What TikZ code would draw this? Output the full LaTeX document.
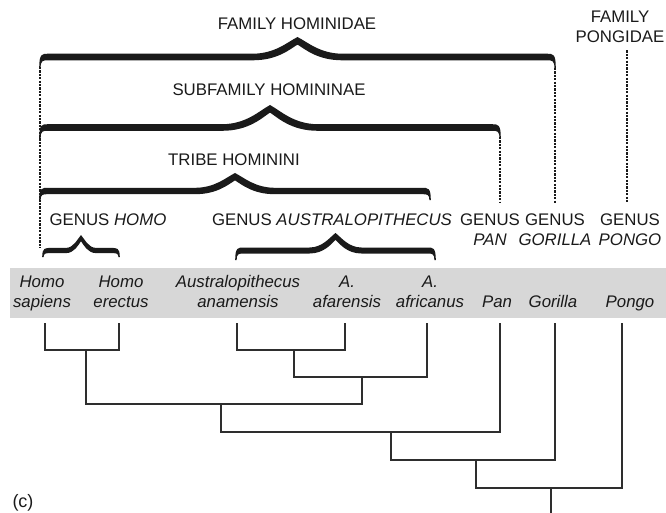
\documentclass[tikz,border=0pt]{standalone}
\usepackage{fontspec}
\setmainfont{Liberation Sans}
\definecolor{bandgray}{HTML}{D7D7D7}
\definecolor{ink}{HTML}{1A1A1A}
\definecolor{treeline}{HTML}{2E2E2E}
\newcommand{\hbrace}[7]{% x1 x2 yend ys yt w t
  \fill[ink]
    (#1-0.8,#3) .. controls (#1-0.8,#4-#7) and (#1+2,#4-#7) .. (#1+8,#4-#7)
    -- ({(#1+#2)/2-#6},#4-#7)
    .. controls ({(#1+#2)/2-0.5*#6},#4-#7) and ({(#1+#2)/2-0.22*#6},{#5+0.3*(#4-#7-#5)}) .. ({(#1+#2)/2},#5)
    .. controls ({(#1+#2)/2+0.22*#6},{#5+0.3*(#4-#7-#5)}) and ({(#1+#2)/2+0.5*#6},#4-#7) .. ({(#1+#2)/2+#6},#4-#7)
    -- (#2-8,#4-#7) .. controls (#2-2,#4-#7) and (#2+0.8,#4-#7) .. (#2+0.8,#3)
    -- (#2-0.6,#3) .. controls (#2-0.6,#4+#7) and (#2-3,#4+#7) .. (#2-8,#4+#7)
    -- ({(#1+#2)/2+#6},#4+#7)
    .. controls ({(#1+#2)/2+0.45*#6},#4+#7) and ({(#1+#2)/2+0.18*#6},{#5+2*#7+1+0.3*(#4-#7-#5)}) .. ({(#1+#2)/2},#5+2*#7+1)
    .. controls ({(#1+#2)/2-0.18*#6},{#5+2*#7+1+0.3*(#4-#7-#5)}) and ({(#1+#2)/2-0.45*#6},#4+#7) .. ({(#1+#2)/2-#6},#4+#7)
    -- (#1+8,#4+#7) .. controls (#1+3,#4+#7) and (#1+0.6,#4+#7) .. (#1+0.6,#3) -- cycle;
}
\begin{document}
\begin{tikzpicture}[x=1pt,y=-1pt,
  lbl/.style={font=\fontsize{16.8}{20}\selectfont, text=ink, inner sep=0pt},
  one/.style={lbl, anchor=base},
  two/.style={lbl, align=center, anchor=north},
  sp/.style={two, font=\fontsize{16.8}{20}\selectfont\itshape},
  spone/.style={one, font=\fontsize{16.8}{20}\selectfont\itshape},
  tree/.style={draw=treeline, line width=1.5pt},
  dsh/.style={draw=ink, line width=1.2pt, dash pattern=on 2.2pt off 1.2pt}
]
\useasboundingbox (0,0) rectangle (666,513);
\fill[bandgray] (10,268) rectangle (666,318);

% top labels
\node[one] (fam) at (297,30) {FAMILY HOMINIDAE};
\node[two] (pongid) at (620,8.5) {\strut FAMILY\\\strut PONGIDAE};
\node[one] (subfam) at (269,96) {SUBFAMILY HOMININAE};
\node[one] (tribe) at (234,166) {TRIBE HOMININI};
\node[one] (ghomo) at (108,225) {GENUS \textit{HOMO}};
\node[one] (gaus) at (332,225) {GENUS \textit{AUSTRALOPITHECUS}};
\node[two] (gpan) at (490,211) {\strut GENUS\\\strut\textit{PAN}};
\node[two] (ggor) at (555,211) {\strut GENUS\\\strut\textit{GORILLA}};
\node[two] (gpon) at (630,211) {\strut GENUS\\\strut\textit{PONGO}};

% braces
\hbrace{40}{555}{68}{57}{37}{45}{3.3}
\hbrace{40}{500}{138}{127.5}{105}{48}{3.3}
\hbrace{40}{430}{200}{191}{173}{40}{3.2}
\hbrace{43}{119}{257}{250.5}{235}{15}{2.6}
\hbrace{236}{435}{260}{250.5}{233}{26}{3}

\coordinate (famL) at (40,67);
\coordinate (famLend) at (40,248);
\coordinate (famR) at (555,68);
\coordinate (subR) at (500,137);
\coordinate (pgx) at (627,0);
\draw[dsh] (famL) -- (famLend);
\draw[dsh, shorten >=8pt] (famR) -- (famR |- ggor.north);
\draw[dsh, shorten >=8pt] (subR) -- (subR |- gpan.north);
\draw[dsh, shorten <=1.5pt, shorten >=8pt] (pgx |- pongid.south) -- (pgx |- gpon.north);

% species
\node[sp] (hs) at (42,273) {\strut Homo\\\strut sapiens};
\node[sp] (he) at (121,273) {\strut Homo\\\strut erectus};
\node[sp] (aa) at (238,273) {\strut Australopithecus\\\strut anamensis};
\node[sp] (af) at (347,273) {\strut A.\\\strut afarensis};
\node[sp] (afr) at (430,273) {\strut A.\\\strut africanus};
\node[spone] (pan) at (497,307) {Pan};
\node[spone] (gor) at (553,307) {Gorilla};
\node[spone] (pon) at (630,307) {Pongo};

% tree
\coordinate (lhs) at (45,323);
\coordinate (lhe) at (119,323);
\coordinate (laa) at (237,323);
\coordinate (laf) at (345,323);
\coordinate (lafr) at (427,323);
\coordinate (lpan) at (500,323);
\coordinate (lgor) at (555,323);
\coordinate (lpon) at (622,323);
\coordinate (nH) at (86,350);
\coordinate (nA1) at (294,350);
\coordinate (nA2) at (362,377);
\coordinate (nHA) at (221,404);
\coordinate (nP) at (391,432);
\coordinate (nG) at (476,460);
\coordinate (nR) at (551,488);
\coordinate (root) at (551,514);
\draw[tree] (lhs) |- (nH) -| (lhe);
\draw[tree] (laa) |- (nA1) -| (laf);
\draw[tree] (nA1) |- (nA2) -| (lafr);
\draw[tree] (nH) |- (nHA) -| (nA2);
\draw[tree] (nHA) |- (nP) -| (lpan);
\draw[tree] (nP) |- (nG) -| (lgor);
\draw[tree] (nG) |- (nR) -| (lpon);
\draw[tree] (nR) -- (root);

\node[lbl, font=\fontsize{18}{20}\selectfont, anchor=base] (clabel) at (23,507) {(c)};
\end{tikzpicture}
\end{document}
